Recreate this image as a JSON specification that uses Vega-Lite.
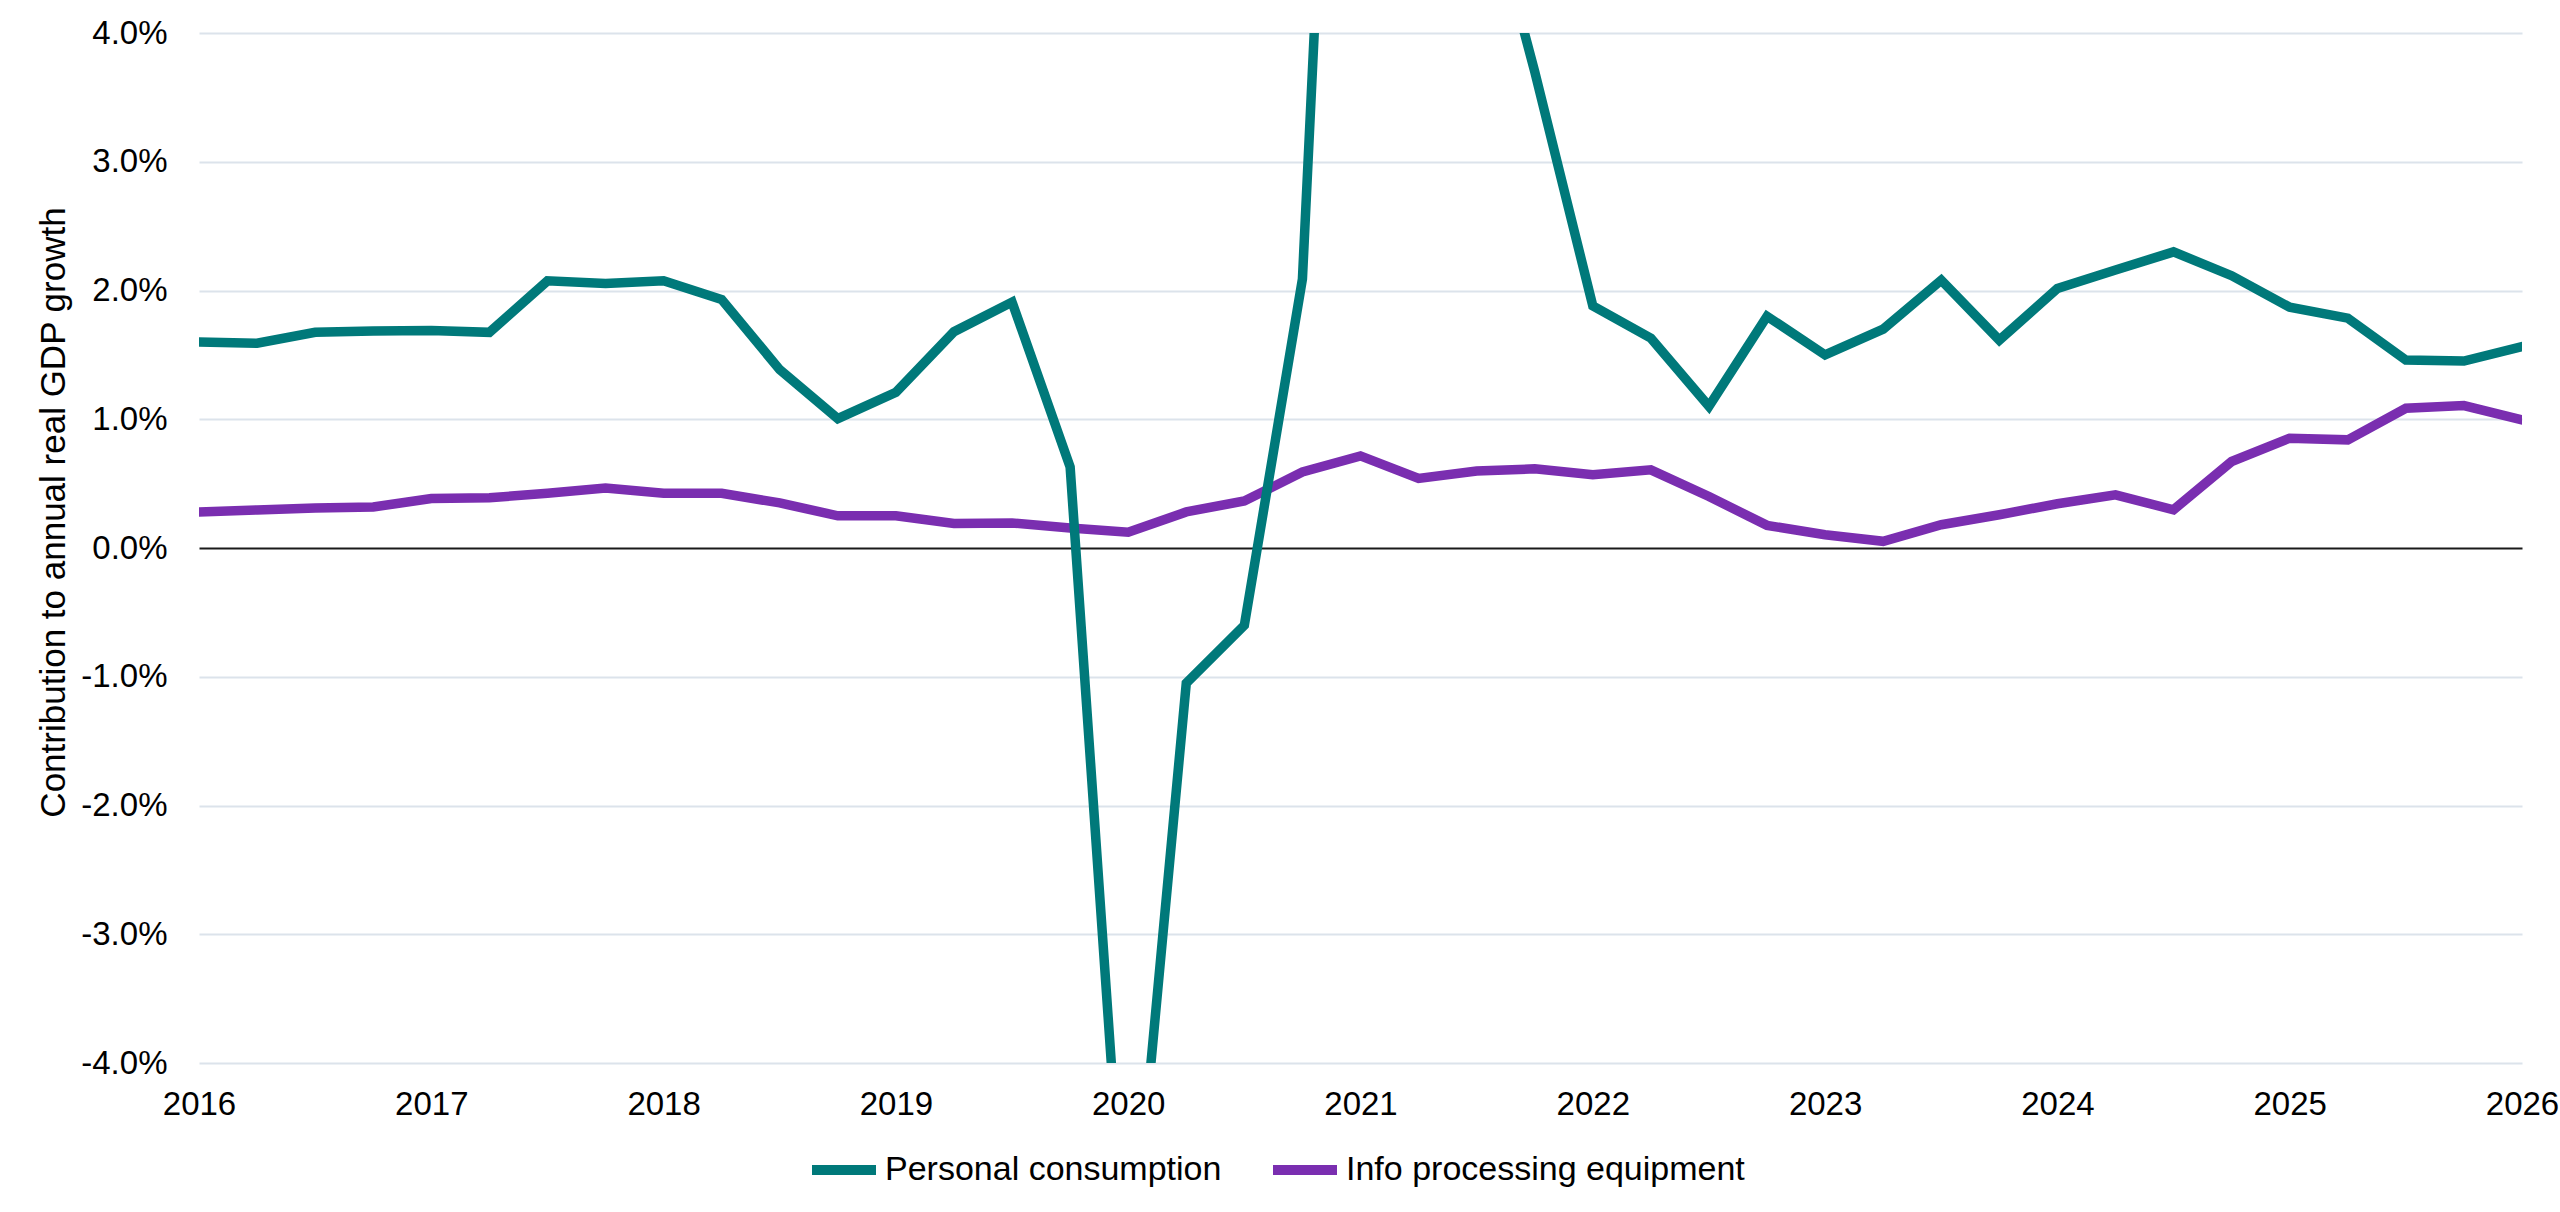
{
  "$schema": "https://vega.github.io/schema/vega-lite/v6.json",
  "description": "Contribution to annual real GDP growth: personal consumption vs info processing equipment, 2016-2026",
  "width": 2323,
  "height": 1030,
  "autosize": "none",
  "padding": {"left": 199, "top": 33, "right": 38, "bottom": 149},
  "background": "white",
  "config": {
    "font": "Liberation Sans",
    "view": {"stroke": null}
  },
  "data": {
    "values": [
      {"t": 2016.0, "Personal consumption": 1.60, "Info processing equipment": 0.28},
      {"t": 2016.25, "Personal consumption": 1.59, "Info processing equipment": 0.295},
      {"t": 2016.5, "Personal consumption": 1.675, "Info processing equipment": 0.31},
      {"t": 2016.75, "Personal consumption": 1.685, "Info processing equipment": 0.318},
      {"t": 2017.0, "Personal consumption": 1.69, "Info processing equipment": 0.385},
      {"t": 2017.25, "Personal consumption": 1.675, "Info processing equipment": 0.39},
      {"t": 2017.5, "Personal consumption": 2.075, "Info processing equipment": 0.425},
      {"t": 2017.75, "Personal consumption": 2.055, "Info processing equipment": 0.465},
      {"t": 2018.0, "Personal consumption": 2.075, "Info processing equipment": 0.425},
      {"t": 2018.25, "Personal consumption": 1.93, "Info processing equipment": 0.425},
      {"t": 2018.5, "Personal consumption": 1.385, "Info processing equipment": 0.35},
      {"t": 2018.75, "Personal consumption": 1.005, "Info processing equipment": 0.25},
      {"t": 2019.0, "Personal consumption": 1.21, "Info processing equipment": 0.25},
      {"t": 2019.25, "Personal consumption": 1.68, "Info processing equipment": 0.19},
      {"t": 2019.5, "Personal consumption": 1.91, "Info processing equipment": 0.195},
      {"t": 2019.75, "Personal consumption": 0.63, "Info processing equipment": 0.155},
      {"t": 2020.0, "Personal consumption": -5.9, "Info processing equipment": 0.122},
      {"t": 2020.25, "Personal consumption": -1.05, "Info processing equipment": 0.28},
      {"t": 2020.5, "Personal consumption": -0.6, "Info processing equipment": 0.365},
      {"t": 2020.75, "Personal consumption": 2.09, "Info processing equipment": 0.59},
      {"t": 2021.0, "Personal consumption": 11.5, "Info processing equipment": 0.715},
      {"t": 2021.25, "Personal consumption": 5.2, "Info processing equipment": 0.54},
      {"t": 2021.5, "Personal consumption": 5.4, "Info processing equipment": 0.598},
      {"t": 2021.75, "Personal consumption": 3.7, "Info processing equipment": 0.615},
      {"t": 2022.0, "Personal consumption": 1.88, "Info processing equipment": 0.57},
      {"t": 2022.25, "Personal consumption": 1.63, "Info processing equipment": 0.607},
      {"t": 2022.5, "Personal consumption": 1.1, "Info processing equipment": 0.40},
      {"t": 2022.75, "Personal consumption": 1.8, "Info processing equipment": 0.176},
      {"t": 2023.0, "Personal consumption": 1.5, "Info processing equipment": 0.103},
      {"t": 2023.25, "Personal consumption": 1.7, "Info processing equipment": 0.052},
      {"t": 2023.5, "Personal consumption": 2.08, "Info processing equipment": 0.181},
      {"t": 2023.75, "Personal consumption": 1.615, "Info processing equipment": 0.258},
      {"t": 2024.0, "Personal consumption": 2.015, "Info processing equipment": 0.344},
      {"t": 2024.25, "Personal consumption": 2.16, "Info processing equipment": 0.413},
      {"t": 2024.5, "Personal consumption": 2.3, "Info processing equipment": 0.297},
      {"t": 2024.75, "Personal consumption": 2.115, "Info processing equipment": 0.672},
      {"t": 2025.0, "Personal consumption": 1.87, "Info processing equipment": 0.853},
      {"t": 2025.25, "Personal consumption": 1.785, "Info processing equipment": 0.84},
      {"t": 2025.5, "Personal consumption": 1.46, "Info processing equipment": 1.085},
      {"t": 2025.75, "Personal consumption": 1.452, "Info processing equipment": 1.106},
      {"t": 2026.0, "Personal consumption": 1.565, "Info processing equipment": 0.995}
    ]
  },
  "transform": [
    {"fold": ["Info processing equipment", "Personal consumption"], "as": ["series", "value"]}
  ],
  "mark": {"type": "line", "clip": true, "strokeWidth": 9.5, "strokeCap": "round"},
  "encoding": {
    "x": {
      "field": "t",
      "type": "quantitative",
      "scale": {"domain": [2016, 2026], "nice": false, "zero": false},
      "axis": {
        "title": null,
        "values": [2016, 2017, 2018, 2019, 2020, 2021, 2022, 2023, 2024, 2025, 2026],
        "format": "d",
        "grid": false,
        "domain": false,
        "ticks": false,
        "labelFontSize": 33,
        "labelColor": "#000000",
        "labelPadding": 25,
        "labelFlush": false
      }
    },
    "y": {
      "field": "value",
      "type": "quantitative",
      "scale": {"domain": [-4, 4], "nice": false, "zero": false},
      "axis": {
        "title": "Contribution to annual real GDP growth",
        "titleFontSize": 35,
        "titleFontWeight": "normal",
        "titleColor": "#000000",
        "titleX": -146,
        "titleY": 479,
        "titleAngle": -90,
        "titleAlign": "center",
        "titleBaseline": "middle",
        "values": [-4, -3, -2, -1, 0, 1, 2, 3, 4],
        "labelExpr": "(datum.value < 0 ? '-' : '') + format(abs(datum.value), '.1f') + '%'",
        "labelFontSize": 33,
        "labelColor": "#000000",
        "labelPadding": 32,
        "domain": false,
        "ticks": false,
        "grid": true,
        "gridColor": {"condition": {"test": "datum.value === 0", "value": "#1a1a1a"}, "value": "#dce3eb"},
        "gridWidth": 2
      }
    },
    "color": {
      "field": "series",
      "type": "nominal",
      "scale": {
        "domain": ["Personal consumption", "Info processing equipment"],
        "range": ["#00797a", "#7a2eb0"]
      },
      "legend": {
        "title": null,
        "orient": "none",
        "direction": "horizontal",
        "legendX": 608,
        "legendY": 1100,
        "symbolType": "stroke",
        "symbolStrokeWidth": 10,
        "symbolSize": 4096,
        "labelFontSize": 34,
        "labelColor": "#000000",
        "labelLimit": 0,
        "labelOffset": 4,
        "columnPadding": 31
      }
    }
  }
}
